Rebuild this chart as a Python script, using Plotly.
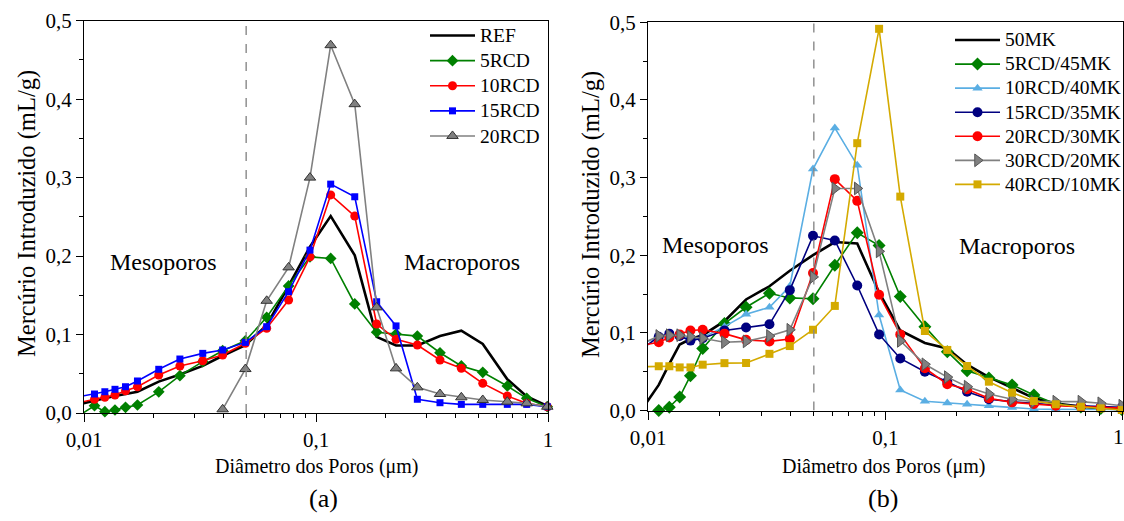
import plotly.graph_objects as go

# ---------------- data ----------------
DIAMETER = [0.0099, 0.0111, 0.0123, 0.0136, 0.0151, 0.0170, 0.0210, 0.0259, 0.0325, 0.0396,
            0.0496, 0.0613, 0.0762, 0.0942, 0.1157, 0.1469, 0.1826, 0.2213, 0.2734, 0.3423,
            0.4231, 0.5233, 0.6677, 0.8096, 0.993]

# panel (a)
REF = [0.0123, 0.0153, 0.0187, 0.0217, 0.0242, 0.0272, 0.040, 0.0490, 0.060, 0.073,
       0.0866, 0.112, 0.162, 0.212, 0.251, 0.201, 0.097, 0.086, 0.086, 0.098,
       0.105, 0.088, 0.043, 0.021, 0.009]
RCD5 = [0.0, 0.0093, 0.0017, 0.0038, 0.0072, 0.0102, 0.027, 0.0476, 0.0654, 0.0794,
        0.092, 0.122, 0.162, 0.199, 0.197, 0.139, 0.103, 0.1006, 0.098, 0.0768,
        0.060, 0.0518, 0.0344, 0.0187, 0.008]
RCD10 = [0.0144, 0.0175, 0.020, 0.0229, 0.0284, 0.0335, 0.0484, 0.0599, 0.0666, 0.0739,
         0.0888, 0.108, 0.144, 0.199, 0.278, 0.251, 0.1134, 0.0939, 0.0866, 0.0675,
         0.057, 0.0378, 0.0217, 0.0123, 0.008]
RCD15 = [0.0217, 0.0242, 0.0271, 0.0302, 0.0335, 0.0408, 0.0557, 0.0688, 0.076, 0.0803,
         0.090, 0.110, 0.1546, 0.2076, 0.2917, 0.2756, 0.1418, 0.111, 0.0175, 0.0131,
         0.011, 0.011, 0.011, 0.011, 0.008]
RCD20 = [None, None, None, None, None, None, None, None, None, 0.0047,
         0.056, 0.143, 0.1856, 0.300, 0.4688, 0.3936, 0.1346, 0.0569, 0.0327, 0.0242,
         0.020, 0.0166, 0.0144, 0.0123, 0.008]

# panel (b)
MK50 = [0.011, 0.033, 0.060, 0.085, 0.092, 0.097, 0.115, 0.143, 0.160, 0.180,
        0.200, 0.217, 0.215, 0.152, 0.103, 0.087, 0.080, 0.059, 0.043, 0.029,
        0.016, 0.009, 0.005, 0.003, 0.0015]
RCD5_MK45 = [None, 0.0, 0.0043, 0.0173, 0.0448, 0.080, 0.112, 0.133, 0.151, 0.145,
             0.144, 0.187, 0.229, 0.2124, 0.1467, 0.108, 0.0758, 0.0513, 0.042, 0.033,
             0.020, 0.0085, 0.0045, 0.0027, 0.0014]
RCD10_MK40 = [0.089, 0.094, 0.097, 0.095, 0.093, 0.094, 0.108, 0.124, 0.133, 0.160,
              0.311, 0.364, 0.316, 0.123, 0.0264, 0.012, 0.0095, 0.008, 0.006, 0.004,
              0.002, 0.0015, 0.001, 0.001, 0.001]
RCD15_MK35 = [0.084, 0.095, 0.099, 0.096, 0.090, 0.093, 0.103, 0.107, 0.111, 0.155,
              0.225, 0.219, 0.161, 0.098, 0.067, 0.050, 0.037, 0.0242, 0.0144, 0.0114,
              0.009, 0.007, 0.006, 0.005, 0.004]
RCD20_MK30 = [0.085, 0.088, 0.094, 0.098, 0.103, 0.104, 0.099, 0.091, 0.089, 0.092,
              0.177, 0.298, 0.270, 0.149, 0.098, 0.0544, 0.0338, 0.0273, 0.0157, 0.0105,
              0.0084, 0.0062, 0.005, 0.004, 0.003]
RCD30_MK20 = [0.089, 0.096, 0.097, 0.097, 0.095, 0.093, 0.088, 0.089, 0.096, 0.104,
              0.172, 0.286, 0.286, 0.205, 0.0896, 0.0595, 0.043, 0.0307, 0.0213, 0.0144,
              0.0114, 0.0114, 0.0114, 0.0093, 0.0062]
RCD40_MK10 = [0.0565, 0.057, 0.057, 0.0555, 0.0555, 0.059, 0.061, 0.0612, 0.073, 0.083,
              0.104, 0.1347, 0.3443, 0.4916, 0.2755, 0.1024, 0.078, 0.0573, 0.0371, 0.023,
              0.0122, 0.008, 0.0049, 0.0028, 0.0006]

BOUNDARY = 0.05  # meso / macro pore limit (µm)

X_TICKS = [0.01, 0.1, 1]
X_TICKTEXT = ["0,01", "0,1", "1"]
X_MINOR = [0.02, 0.03, 0.04, 0.05, 0.06, 0.07, 0.08, 0.09, 0.2, 0.3, 0.4, 0.5, 0.6, 0.7, 0.8, 0.9]
Y_TICKS = [0.0, 0.1, 0.2, 0.3, 0.4, 0.5]
Y_TICKTEXT = ["0,0", "0,1", "0,2", "0,3", "0,4", "0,5"]
Y_MINOR = [0.05, 0.15, 0.25, 0.35, 0.45]

FONT = "Liberation Serif, Times New Roman, Times, serif"
W, H = 1124, 521
LEG_TXT = 19.5  # rendered size of legend labels

fig = go.Figure()

def add(x, y, name, color, xa, ya, legend, symbol=None, size=8, width=1.6, mline=None):
    mode = "lines" if symbol is None else "lines+markers"
    marker = dict(symbol=symbol or "circle", size=size, color=color)
    if mline:
        marker["line"] = dict(color=mline, width=1)
    label = f"<span style='font-size:{LEG_TXT}px'>{name}</span>"
    fig.add_trace(go.Scatter(x=x, y=y, name=label, mode=mode, xaxis=xa, yaxis=ya,
                             line=dict(color=color, width=width), marker=marker,
                             legend=legend, cliponaxis=False, connectgaps=False))

# panel (a)
add(DIAMETER, REF, "REF", "black", "x", "y", "legend", width=2.6)
add(DIAMETER, RCD5, "5RCD", "#008000", "x", "y", "legend", "diamond", 9)
add(DIAMETER, RCD10, "10RCD", "#FF0000", "x", "y", "legend", "circle", 9)
add(DIAMETER, RCD15, "15RCD", "#0000FF", "x", "y", "legend", "square", 7)
add(DIAMETER, RCD20, "20RCD", "#808080", "x", "y", "legend", "triangle-up", 10, mline="#333333")

# panel (b)
add(DIAMETER, MK50, "50MK", "black", "x2", "y2", "legend2", width=2.6)
add(DIAMETER, RCD5_MK45, "5RCD/45MK", "#008000", "x2", "y2", "legend2", "diamond", 10)
add(DIAMETER, RCD10_MK40, "10RCD/40MK", "#5AAEE3", "x2", "y2", "legend2", "triangle-up", 9)
add(DIAMETER, RCD15_MK35, "15RCD/35MK", "#000080", "x2", "y2", "legend2", "circle", 10)
add(DIAMETER, RCD20_MK30, "20RCD/30MK", "#FF0000", "x2", "y2", "legend2", "circle", 10)
add(DIAMETER, RCD30_MK20, "30RCD/20MK", "#808080", "x2", "y2", "legend2", "triangle-right", 11, mline="#555555")
add(DIAMETER, RCD40_MK10, "40RCD/10MK", "#D4AA00", "x2", "y2", "legend2", "square", 8)

# boundary dashed lines
for xa, ya in (("x", "y"), ("x2", "y2")):
    fig.add_trace(go.Scatter(x=[BOUNDARY, BOUNDARY], y=[Y_TICKS[0], Y_TICKS[-1]], mode="lines",
                             xaxis=xa, yaxis=ya, showlegend=False, hoverinfo="skip",
                             line=dict(color="#888888", width=1.4, dash="dash")))

def xaxis(domain, anchor, ticktext):
    return dict(type="log", range=[-2, 0], domain=domain, anchor=anchor,
                tickmode="array", tickvals=X_TICKS, ticktext=ticktext,
                ticks="outside", ticklen=8, tickwidth=1.2, tickcolor="black",
                minor=dict(tickmode="array", tickvals=X_MINOR, ticks="outside", ticklen=4,
                           tickwidth=1, tickcolor="black", showgrid=False),
                showline=True, linecolor="black", linewidth=1.3, mirror=True,
                showgrid=False, zeroline=False, automargin=False,
                ticklabeloverflow="allow",
                tickfont=dict(size=21, family=FONT))

def yaxis(domain, anchor):
    return dict(range=[0, 0.5], domain=domain, anchor=anchor,
                tickmode="array", tickvals=Y_TICKS, ticktext=Y_TICKTEXT,
                ticks="outside", ticklen=7, tickwidth=1.2, tickcolor="black",
                minor=dict(tickmode="array", tickvals=Y_MINOR, ticks="outside", ticklen=4,
                           tickwidth=1, tickcolor="black", showgrid=False),
                showline=True, linecolor="black", linewidth=1.3, mirror=True,
                showgrid=False, zeroline=False, automargin=False,
                ticklabeloverflow="allow",
                tickfont=dict(size=21, family=FONT))

def px(xp):
    return xp / W

def py(yp):
    return 1 - yp / H

# the last label of panel (b) sits at the page edge, so it is drawn as an annotation
RIGHT_TICKTEXT = X_TICKTEXT[:-1] + [""]

fig.update_layout(
    width=W, height=H, margin=dict(l=0, r=0, t=0, b=0, autoexpand=False),
    paper_bgcolor="white", plot_bgcolor="white",
    font=dict(family=FONT, color="black", size=19),
    xaxis=xaxis([px(84), px(548)], "y", X_TICKTEXT),
    yaxis=yaxis([py(413), py(20.7)], "x"),
    xaxis2=xaxis([px(648), px(1122.5)], "y2", RIGHT_TICKTEXT),
    yaxis2=yaxis([py(410.5), py(22.3)], "x2"),
    legend=dict(x=px(425), y=py(18), xanchor="left", yanchor="top",
                bgcolor="rgba(0,0,0,0)", font=dict(size=17, family=FONT), itemwidth=45,
                tracegroupgap=0),
    legend2=dict(x=px(950), y=py(23), xanchor="left", yanchor="top",
                 bgcolor="rgba(0,0,0,0)", font=dict(size=16.2, family=FONT), itemwidth=45,
                 tracegroupgap=0),
    showlegend=True,
)

ann = [
    ("Mesoporos", 163, 262, 24, 0),
    ("Macroporos", 462, 262, 24, 0),
    ("Mesoporos", 715, 245, 24, 0),
    ("Macroporos", 1017, 246, 24, 0),
    ("Diâmetro dos Poros (μm)", 316, 466, 20, 0),
    ("Diâmetro dos Poros (μm)", 883, 466, 20, 0),
    ("(a)", 323, 498, 26, 0),
    ("(b)", 883, 498, 26, 0),
    ("Mercúrio Introduzido (mL/g)", 27, 214, 24.5, -90),
    ("Mercúrio Introduzido (mL/g)", 591, 214, 24.5, -90),
    (X_TICKTEXT[-1], 1118, 437, 21, 0),
]
for text, xp, yp, size, ang in ann:
    fig.add_annotation(text=text, x=px(xp), y=py(yp), xref="paper", yref="paper",
                       showarrow=False, xanchor="center", yanchor="middle",
                       textangle=ang, font=dict(size=size, family=FONT, color="black"))

fig.write_html("out.html")
